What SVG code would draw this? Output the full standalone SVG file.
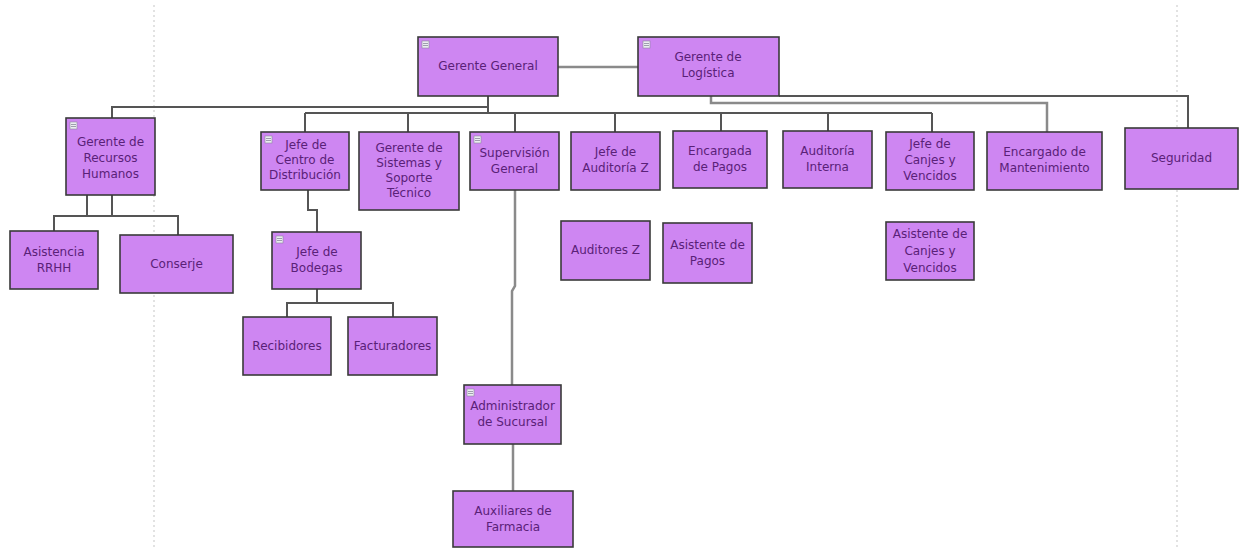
<svg xmlns="http://www.w3.org/2000/svg" width="1240" height="550" viewBox="0 0 1240 550">
<style>
.box{fill:#ce86f2;stroke:#3a3a3a;stroke-width:1.6}
.t{font-family:"DejaVu Sans",Verdana,sans-serif;font-size:12px;fill:#5a2178;text-anchor:middle;dominant-baseline:central}
.c{fill:none;stroke:#555;stroke-width:2}
.cl{fill:none;stroke:#8a8a8a;stroke-width:2.5}
.ic{fill:#ececf2;stroke:#8a8a9a;stroke-width:0.6}
.il{stroke:#8a8a9a;stroke-width:0.8}
.guide{stroke:#cfcfcf;stroke-width:1.2;stroke-dasharray:2 3}
</style>
<rect x="0" y="0" width="1240" height="550" fill="#ffffff"/>
<line class="guide" x1="154" y1="5" x2="154" y2="550"/>
<line class="guide" x1="1177" y1="5" x2="1177" y2="550"/>

<g id="connectors">
  <path class="cl" d="M558 67 H638"/>
  <path class="c" d="M488 96 V113"/>
  <path class="c" d="M488 107 H112 V118"/>
  <path class="c" d="M305 113 H932"/>
  <path class="c" d="M305 113 V132"/>
  <path class="c" d="M408 113 V132"/>
  <path class="c" d="M515 113 V132"/>
  <path class="c" d="M615 113 V132"/>
  <path class="c" d="M721 113 V131"/>
  <path class="c" d="M828 113 V131"/>
  <path class="c" d="M932 113 V132"/>
  <path class="cl" d="M711 96 V103 H1047 V132"/>
  <path class="c" d="M779 96 H1188 V128"/>
  <path class="c" d="M87 195 V216"/>
  <path class="c" d="M112 195 V216"/>
  <path class="c" d="M54 231 V216 H178 V235"/>
  <path class="c" d="M308 190 V210 H317 V232"/>
  <path class="c" d="M317 289 V303"/>
  <path class="c" d="M287 317 V303 H393 V317"/>
  <path class="cl" d="M515 190 V286 L512 291 V385"/>
  <path class="cl" d="M513 444 V491"/>
</g>

<g id="gerente-general">
  <rect class="box" x="418" y="37" width="140" height="59"/>
  <rect class="ic" x="422" y="41" width="7" height="7"/><line class="il" x1="423" y1="43.5" x2="428" y2="43.5"/><line class="il" x1="423" y1="45.5" x2="428" y2="45.5"/>
  <text class="t" x="488" y="66">Gerente General</text>
</g>
<g id="gerente-logistica">
  <rect class="box" x="638" y="37" width="141" height="59"/>
  <rect class="ic" x="643" y="41" width="7" height="7"/><line class="il" x1="644" y1="43.5" x2="649" y2="43.5"/><line class="il" x1="644" y1="45.5" x2="649" y2="45.5"/>
  <text class="t" x="708" y="57">Gerente de</text>
  <text class="t" x="708" y="73">Logística</text>
</g>
<g id="gerente-rrhh">
  <rect class="box" x="66" y="118" width="89" height="77"/>
  <rect class="ic" x="70" y="122" width="7" height="7"/><line class="il" x1="71" y1="124.5" x2="76" y2="124.5"/><line class="il" x1="71" y1="126.5" x2="76" y2="126.5"/>
  <text class="t" x="110.5" y="142">Gerente de</text>
  <text class="t" x="110.5" y="158">Recursos</text>
  <text class="t" x="110.5" y="174">Humanos</text>
</g>
<g id="jefe-centro-distribucion">
  <rect class="box" x="261" y="132" width="88" height="58"/>
  <rect class="ic" x="265" y="136" width="7" height="7"/><line class="il" x1="266" y1="138.5" x2="271" y2="138.5"/><line class="il" x1="266" y1="140.5" x2="271" y2="140.5"/>
  <text class="t" x="306" y="145">Jefe de</text>
  <text class="t" x="305" y="160">Centro de</text>
  <text class="t" x="305" y="175">Distribución</text>
</g>
<g id="gerente-sistemas">
  <rect class="box" x="359" y="132" width="100" height="78"/>
  <text class="t" x="409" y="148">Gerente de</text>
  <text class="t" x="409" y="163">Sistemas y</text>
  <text class="t" x="409" y="178">Soporte</text>
  <text class="t" x="409" y="193">Técnico</text>
</g>
<g id="supervision-general">
  <rect class="box" x="470" y="132" width="89" height="58"/>
  <rect class="ic" x="474" y="136" width="7" height="7"/><line class="il" x1="475" y1="138.5" x2="480" y2="138.5"/><line class="il" x1="475" y1="140.5" x2="480" y2="140.5"/>
  <text class="t" x="514.5" y="153">Supervisión</text>
  <text class="t" x="514.5" y="169">General</text>
</g>
<g id="jefe-auditoria-z">
  <rect class="box" x="571" y="132" width="89" height="58"/>
  <text class="t" x="615.5" y="152">Jefe de</text>
  <text class="t" x="615.5" y="168">Auditoría Z</text>
</g>
<g id="encargada-pagos">
  <rect class="box" x="673" y="131" width="94" height="57"/>
  <text class="t" x="720" y="151">Encargada</text>
  <text class="t" x="720" y="167">de Pagos</text>
</g>
<g id="auditoria-interna">
  <rect class="box" x="783" y="131" width="89" height="57"/>
  <text class="t" x="827.5" y="151">Auditoría</text>
  <text class="t" x="827.5" y="167">Interna</text>
</g>
<g id="jefe-canjes">
  <rect class="box" x="886" y="132" width="88" height="58"/>
  <text class="t" x="930" y="144">Jefe de</text>
  <text class="t" x="930" y="160">Canjes y</text>
  <text class="t" x="930" y="176">Vencidos</text>
</g>
<g id="encargado-mantenimiento">
  <rect class="box" x="987" y="132" width="115" height="58"/>
  <text class="t" x="1044.5" y="152">Encargado de</text>
  <text class="t" x="1044.5" y="168">Mantenimiento</text>
</g>
<g id="seguridad">
  <rect class="box" x="1125" y="128" width="113" height="61"/>
  <text class="t" x="1181.5" y="158">Seguridad</text>
</g>
<g id="asistencia-rrhh">
  <rect class="box" x="10" y="231" width="88" height="58"/>
  <text class="t" x="54" y="252">Asistencia</text>
  <text class="t" x="54" y="268">RRHH</text>
</g>
<g id="conserje">
  <rect class="box" x="120" y="235" width="113" height="58"/>
  <text class="t" x="176.5" y="264">Conserje</text>
</g>
<g id="jefe-bodegas">
  <rect class="box" x="272" y="232" width="89" height="57"/>
  <rect class="ic" x="276" y="236" width="7" height="7"/><line class="il" x1="277" y1="238.5" x2="282" y2="238.5"/><line class="il" x1="277" y1="240.5" x2="282" y2="240.5"/>
  <text class="t" x="317" y="252">Jefe de</text>
  <text class="t" x="316.5" y="268">Bodegas</text>
</g>
<g id="recibidores">
  <rect class="box" x="243" y="317" width="88" height="58"/>
  <text class="t" x="287" y="346">Recibidores</text>
</g>
<g id="facturadores">
  <rect class="box" x="348" y="317" width="89" height="58"/>
  <text class="t" x="392.5" y="346">Facturadores</text>
</g>
<g id="auditores-z">
  <rect class="box" x="561" y="221" width="89" height="59"/>
  <text class="t" x="605.5" y="250">Auditores Z</text>
</g>
<g id="asistente-pagos">
  <rect class="box" x="663" y="223" width="89" height="60"/>
  <text class="t" x="707.5" y="245">Asistente de</text>
  <text class="t" x="707.5" y="261">Pagos</text>
</g>
<g id="asistente-canjes">
  <rect class="box" x="886" y="222" width="88" height="58"/>
  <text class="t" x="930" y="234">Asistente de</text>
  <text class="t" x="930" y="251">Canjes y</text>
  <text class="t" x="930" y="268">Vencidos</text>
</g>
<g id="administrador-sucursal">
  <rect class="box" x="464" y="385" width="97" height="59"/>
  <rect class="ic" x="467" y="389" width="7" height="7"/><line class="il" x1="468" y1="391.5" x2="473" y2="391.5"/><line class="il" x1="468" y1="393.5" x2="473" y2="393.5"/>
  <text class="t" x="512.5" y="406">Administrador</text>
  <text class="t" x="512.5" y="422">de Sucursal</text>
</g>
<g id="auxiliares-farmacia">
  <rect class="box" x="453" y="491" width="120" height="56"/>
  <text class="t" x="513" y="511">Auxiliares de</text>
  <text class="t" x="513" y="527">Farmacia</text>
</g>
</svg>
